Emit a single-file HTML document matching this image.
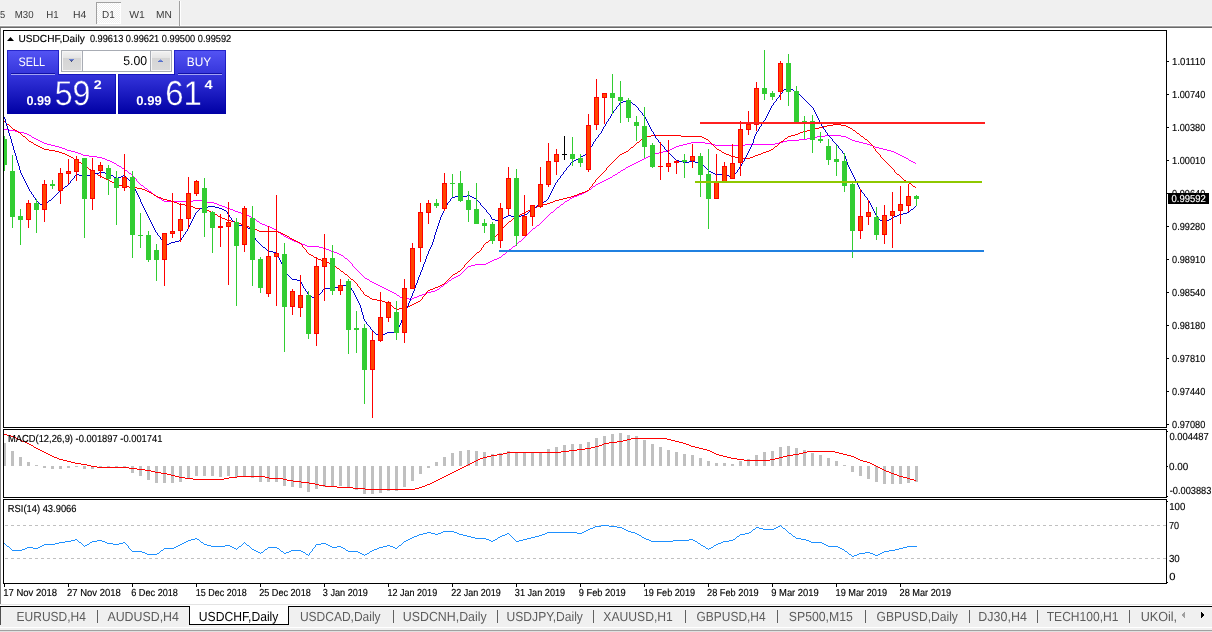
<!DOCTYPE html><html><head><meta charset="utf-8"><title>USDCHF,Daily</title>
<style>html,body{margin:0;padding:0;background:#fff;}body{width:1212px;height:632px;overflow:hidden;position:relative;font-family:"Liberation Sans",sans-serif;}svg{position:absolute;left:0;top:0;display:block}text{font-family:"Liberation Sans",sans-serif;text-rendering:geometricPrecision;}</style></head><body>
<svg width="1212" height="632" viewBox="0 0 1212 632">
<g shape-rendering="crispEdges">
<rect x="0" y="0" width="1212" height="632" fill="#ffffff" />
<rect x="0" y="0" width="1212" height="26" fill="#f0f0f0" />
<rect x="0" y="25" width="1212" height="1" fill="#fbfbfb" />
<rect x="0" y="26" width="1212" height="1" fill="#a0a0a0" />
<rect x="0" y="27" width="1212" height="1" fill="#696969" />
<defs><pattern id="hatch" width="2" height="2" patternUnits="userSpaceOnUse"><rect width="2" height="2" fill="#f0f0f0"/><rect width="1" height="1" fill="#fff"/><rect x="1" y="1" width="1" height="1" fill="#fff"/></pattern></defs>
<rect x="96" y="2" width="25" height="22" fill="url(#hatch)" />
<rect x="96" y="2" width="25" height="1" fill="#a0a0a0" />
<rect x="96" y="2" width="1" height="22" fill="#a0a0a0" />
<rect x="120" y="3" width="1" height="21" fill="#ffffff" />
<rect x="97" y="23" width="24" height="1" fill="#ffffff" />
<rect x="179" y="1" width="1" height="25" fill="#a0a0a0" />
<rect x="180" y="1" width="1" height="25" fill="#ffffff" />
<rect x="0" y="28" width="1" height="576" fill="#808080" />
<rect x="3" y="30" width="1164" height="1" fill="#000" />
<rect x="3" y="427" width="1164" height="1" fill="#000" />
<rect x="3" y="30" width="1" height="398" fill="#000" />
<rect x="1166" y="30" width="1" height="398" fill="#000" />
<rect x="3" y="429" width="1164" height="1" fill="#000" />
<rect x="3" y="497" width="1164" height="1" fill="#000" />
<rect x="3" y="429" width="1" height="69" fill="#000" />
<rect x="1166" y="429" width="1" height="69" fill="#000" />
<rect x="3" y="499" width="1164" height="1" fill="#000" />
<rect x="3" y="583" width="1164" height="1" fill="#000" />
<rect x="3" y="499" width="1" height="85" fill="#000" />
<rect x="1166" y="499" width="1" height="85" fill="#000" />
<rect x="0" y="604" width="1212" height="1" fill="#e3e3e3" />
<rect x="0" y="606" width="1212" height="1" fill="#000" />
<rect x="0" y="607" width="1212" height="20" fill="#f0f0f0" />
<rect x="0" y="627" width="1212" height="1" fill="#ffffff" />
<rect x="0" y="628" width="1212" height="2" fill="#f0f0f0" />
<rect x="0" y="630" width="1212" height="1" fill="#a0a0a0" />
<rect x="0" y="631" width="1212" height="1" fill="#e0e0e0" />
<rect x="0" y="607" width="1" height="18" fill="#505050" />
<rect x="189" y="606" width="100" height="19" fill="#ffffff" />
<rect x="189" y="606" width="1" height="19" fill="#000" />
<rect x="288" y="606" width="1" height="19" fill="#000" />
<rect x="189" y="624" width="100" height="1" fill="#000" />
<rect x="97" y="610" width="1" height="13" fill="#606060" />
<rect x="393" y="610" width="1" height="13" fill="#606060" />
<rect x="497" y="610" width="1" height="13" fill="#606060" />
<rect x="593" y="610" width="1" height="13" fill="#606060" />
<rect x="685" y="610" width="1" height="13" fill="#606060" />
<rect x="777" y="610" width="1" height="13" fill="#606060" />
<rect x="865" y="610" width="1" height="13" fill="#606060" />
<rect x="969" y="610" width="1" height="13" fill="#606060" />
<rect x="1037" y="610" width="1" height="13" fill="#606060" />
<rect x="1129" y="610" width="1" height="13" fill="#606060" />
<polygon points="1185,612 1185,618 1181.8,615" fill="#a0a0a0"/>
<polygon points="1201,611.5 1201,618.5 1204.5,615" fill="#000"/>
<rect x="1167" y="61" width="2" height="1" fill="#000" />
<rect x="1167" y="94" width="2" height="1" fill="#000" />
<rect x="1167" y="127" width="2" height="1" fill="#000" />
<rect x="1167" y="160" width="2" height="1" fill="#000" />
<rect x="1167" y="193" width="2" height="1" fill="#000" />
<rect x="1167" y="226" width="2" height="1" fill="#000" />
<rect x="1167" y="259" width="2" height="1" fill="#000" />
<rect x="1167" y="292" width="2" height="1" fill="#000" />
<rect x="1167" y="325" width="2" height="1" fill="#000" />
<rect x="1167" y="358" width="2" height="1" fill="#000" />
<rect x="1167" y="391" width="2" height="1" fill="#000" />
<rect x="1167" y="424" width="2" height="1" fill="#000" />
<rect x="1167" y="431" width="1" height="1" fill="#000" />
<rect x="1167" y="466" width="1" height="1" fill="#000" />
<rect x="1167" y="496" width="1" height="1" fill="#000" />
<rect x="1167" y="501" width="1" height="1" fill="#000" />
<rect x="1167" y="582" width="1" height="1" fill="#000" />
<rect x="4" y="584" width="1" height="3" fill="#000" />
<rect x="68" y="584" width="1" height="3" fill="#000" />
<rect x="132" y="584" width="1" height="3" fill="#000" />
<rect x="196" y="584" width="1" height="3" fill="#000" />
<rect x="260" y="584" width="1" height="3" fill="#000" />
<rect x="324" y="584" width="1" height="3" fill="#000" />
<rect x="388" y="584" width="1" height="3" fill="#000" />
<rect x="452" y="584" width="1" height="3" fill="#000" />
<rect x="516" y="584" width="1" height="3" fill="#000" />
<rect x="580" y="584" width="1" height="3" fill="#000" />
<rect x="644" y="584" width="1" height="3" fill="#000" />
<rect x="708" y="584" width="1" height="3" fill="#000" />
<rect x="772" y="584" width="1" height="3" fill="#000" />
<rect x="836" y="584" width="1" height="3" fill="#000" />
<rect x="900" y="584" width="1" height="3" fill="#000" />
<line x1="5" y1="525.5" x2="1166" y2="525.5" stroke="#c0c0c0" stroke-width="1" stroke-dasharray="3 3"/>
<line x1="5" y1="558.5" x2="1166" y2="558.5" stroke="#c0c0c0" stroke-width="1" stroke-dasharray="3 3"/>
<rect x="4" y="443" width="2" height="23" fill="#c0c0c0" />
<rect x="11" y="451" width="3" height="15" fill="#c0c0c0" />
<rect x="19" y="457" width="3" height="9" fill="#c0c0c0" />
<rect x="27" y="462" width="3" height="4" fill="#c0c0c0" />
<rect x="35" y="465" width="3" height="1" fill="#c0c0c0" />
<rect x="43" y="466" width="3" height="2" fill="#c0c0c0" />
<rect x="51" y="466" width="3" height="3" fill="#c0c0c0" />
<rect x="59" y="466" width="3" height="3" fill="#c0c0c0" />
<rect x="67" y="466" width="3" height="2" fill="#c0c0c0" />
<rect x="75" y="466" width="3" height="1" fill="#c0c0c0" />
<rect x="83" y="466" width="3" height="3" fill="#c0c0c0" />
<rect x="91" y="466" width="3" height="3" fill="#c0c0c0" />
<rect x="99" y="466" width="3" height="2" fill="#c0c0c0" />
<rect x="107" y="466" width="3" height="2" fill="#c0c0c0" />
<rect x="115" y="466" width="3" height="2" fill="#c0c0c0" />
<rect x="123" y="466" width="3" height="2" fill="#c0c0c0" />
<rect x="131" y="466" width="3" height="7" fill="#c0c0c0" />
<rect x="139" y="466" width="3" height="10" fill="#c0c0c0" />
<rect x="147" y="466" width="3" height="14" fill="#c0c0c0" />
<rect x="155" y="466" width="3" height="17" fill="#c0c0c0" />
<rect x="163" y="466" width="3" height="17" fill="#c0c0c0" />
<rect x="171" y="466" width="3" height="17" fill="#c0c0c0" />
<rect x="179" y="466" width="3" height="16" fill="#c0c0c0" />
<rect x="187" y="466" width="3" height="13" fill="#c0c0c0" />
<rect x="195" y="466" width="3" height="10" fill="#c0c0c0" />
<rect x="203" y="466" width="3" height="10" fill="#c0c0c0" />
<rect x="211" y="466" width="3" height="10" fill="#c0c0c0" />
<rect x="219" y="466" width="3" height="11" fill="#c0c0c0" />
<rect x="227" y="466" width="3" height="10" fill="#c0c0c0" />
<rect x="235" y="466" width="3" height="11" fill="#c0c0c0" />
<rect x="243" y="466" width="3" height="10" fill="#c0c0c0" />
<rect x="251" y="466" width="3" height="12" fill="#c0c0c0" />
<rect x="259" y="466" width="3" height="16" fill="#c0c0c0" />
<rect x="267" y="466" width="3" height="16" fill="#c0c0c0" />
<rect x="275" y="466" width="3" height="16" fill="#c0c0c0" />
<rect x="283" y="466" width="3" height="20" fill="#c0c0c0" />
<rect x="291" y="466" width="3" height="21" fill="#c0c0c0" />
<rect x="299" y="466" width="3" height="22" fill="#c0c0c0" />
<rect x="307" y="466" width="3" height="26" fill="#c0c0c0" />
<rect x="315" y="466" width="3" height="23" fill="#c0c0c0" />
<rect x="323" y="466" width="3" height="21" fill="#c0c0c0" />
<rect x="331" y="466" width="3" height="20" fill="#c0c0c0" />
<rect x="339" y="466" width="3" height="20" fill="#c0c0c0" />
<rect x="347" y="466" width="3" height="22" fill="#c0c0c0" />
<rect x="355" y="466" width="3" height="24" fill="#c0c0c0" />
<rect x="363" y="466" width="3" height="28" fill="#c0c0c0" />
<rect x="371" y="466" width="3" height="28" fill="#c0c0c0" />
<rect x="379" y="466" width="3" height="27" fill="#c0c0c0" />
<rect x="387" y="466" width="3" height="25" fill="#c0c0c0" />
<rect x="395" y="466" width="3" height="25" fill="#c0c0c0" />
<rect x="403" y="466" width="3" height="21" fill="#c0c0c0" />
<rect x="411" y="466" width="3" height="15" fill="#c0c0c0" />
<rect x="419" y="466" width="3" height="8" fill="#c0c0c0" />
<rect x="427" y="466" width="3" height="2" fill="#c0c0c0" />
<rect x="435" y="462" width="3" height="4" fill="#c0c0c0" />
<rect x="443" y="457" width="3" height="9" fill="#c0c0c0" />
<rect x="451" y="453" width="3" height="13" fill="#c0c0c0" />
<rect x="459" y="451" width="3" height="15" fill="#c0c0c0" />
<rect x="467" y="450" width="3" height="16" fill="#c0c0c0" />
<rect x="475" y="451" width="3" height="15" fill="#c0c0c0" />
<rect x="483" y="452" width="3" height="14" fill="#c0c0c0" />
<rect x="491" y="454" width="3" height="12" fill="#c0c0c0" />
<rect x="499" y="453" width="3" height="13" fill="#c0c0c0" />
<rect x="507" y="451" width="3" height="15" fill="#c0c0c0" />
<rect x="515" y="452" width="3" height="14" fill="#c0c0c0" />
<rect x="523" y="452" width="3" height="14" fill="#c0c0c0" />
<rect x="531" y="452" width="3" height="14" fill="#c0c0c0" />
<rect x="539" y="452" width="3" height="14" fill="#c0c0c0" />
<rect x="547" y="449" width="3" height="17" fill="#c0c0c0" />
<rect x="555" y="447" width="3" height="19" fill="#c0c0c0" />
<rect x="563" y="445" width="3" height="21" fill="#c0c0c0" />
<rect x="571" y="444" width="3" height="22" fill="#c0c0c0" />
<rect x="579" y="444" width="3" height="22" fill="#c0c0c0" />
<rect x="587" y="442" width="3" height="24" fill="#c0c0c0" />
<rect x="595" y="438" width="3" height="28" fill="#c0c0c0" />
<rect x="603" y="436" width="3" height="30" fill="#c0c0c0" />
<rect x="611" y="434" width="3" height="32" fill="#c0c0c0" />
<rect x="619" y="433" width="3" height="33" fill="#c0c0c0" />
<rect x="627" y="435" width="3" height="31" fill="#c0c0c0" />
<rect x="635" y="436" width="3" height="30" fill="#c0c0c0" />
<rect x="643" y="440" width="3" height="26" fill="#c0c0c0" />
<rect x="651" y="444" width="3" height="22" fill="#c0c0c0" />
<rect x="659" y="447" width="3" height="19" fill="#c0c0c0" />
<rect x="667" y="450" width="3" height="16" fill="#c0c0c0" />
<rect x="675" y="452" width="3" height="14" fill="#c0c0c0" />
<rect x="683" y="454" width="3" height="12" fill="#c0c0c0" />
<rect x="691" y="455" width="3" height="11" fill="#c0c0c0" />
<rect x="699" y="458" width="3" height="8" fill="#c0c0c0" />
<rect x="707" y="461" width="3" height="5" fill="#c0c0c0" />
<rect x="715" y="463" width="3" height="3" fill="#c0c0c0" />
<rect x="723" y="463" width="3" height="3" fill="#c0c0c0" />
<rect x="731" y="464" width="3" height="2" fill="#c0c0c0" />
<rect x="739" y="461" width="3" height="5" fill="#c0c0c0" />
<rect x="747" y="459" width="3" height="7" fill="#c0c0c0" />
<rect x="755" y="455" width="3" height="11" fill="#c0c0c0" />
<rect x="763" y="452" width="3" height="14" fill="#c0c0c0" />
<rect x="771" y="451" width="3" height="15" fill="#c0c0c0" />
<rect x="779" y="447" width="3" height="19" fill="#c0c0c0" />
<rect x="787" y="446" width="3" height="20" fill="#c0c0c0" />
<rect x="795" y="448" width="3" height="18" fill="#c0c0c0" />
<rect x="803" y="450" width="3" height="16" fill="#c0c0c0" />
<rect x="811" y="453" width="3" height="13" fill="#c0c0c0" />
<rect x="819" y="455" width="3" height="11" fill="#c0c0c0" />
<rect x="827" y="458" width="3" height="8" fill="#c0c0c0" />
<rect x="835" y="461" width="3" height="5" fill="#c0c0c0" />
<rect x="843" y="465" width="3" height="1" fill="#c0c0c0" />
<rect x="851" y="466" width="3" height="6" fill="#c0c0c0" />
<rect x="859" y="466" width="3" height="10" fill="#c0c0c0" />
<rect x="867" y="466" width="3" height="13" fill="#c0c0c0" />
<rect x="875" y="466" width="3" height="16" fill="#c0c0c0" />
<rect x="883" y="466" width="3" height="18" fill="#c0c0c0" />
<rect x="891" y="466" width="3" height="18" fill="#c0c0c0" />
<rect x="899" y="466" width="3" height="18" fill="#c0c0c0" />
<rect x="907" y="466" width="3" height="17" fill="#c0c0c0" />
<rect x="915" y="466" width="3" height="16" fill="#c0c0c0" />
</g>
<g shape-rendering="crispEdges">
<path d="M44 452.5h2M507 452.5h54M712 452.5h2M803 452.5h4M835 452.5h4M42 451.5h2M561 451.5h8M710 451.5h2M807 451.5h28M91 466.5h6M464 466.5h2M876 466.5h2M325 486.5h12M422 486.5h3M48 454.5h2M497 454.5h6M716 454.5h3M793 454.5h6M843 454.5h4M46 453.5h2M503 453.5h4M714 453.5h2M799 453.5h4M839 453.5h4M301 482.5h8M432 482.5h2M40 450.5h2M569 450.5h8M707 450.5h3M20 440.5h2M623 440.5h4M671 440.5h4M63 460.5h4M476 460.5h2M744 460.5h26M860 460.5h3M59 459.5h4M478 459.5h2M737 459.5h7M770 459.5h5M858 459.5h2M185 478.5h8M224 478.5h5M269 478.5h14M440 478.5h2M907 478.5h3M309 483.5h6M430 483.5h2M36 448.5h2M585 448.5h6M699 448.5h4M175 476.5h4M237 476.5h28M444 476.5h2M899 476.5h4M151 471.5h4M454 471.5h2M886 471.5h3M97 467.5h32M462 467.5h2M878 467.5h2M193 479.5h31M283 479.5h4M438 479.5h2M910 479.5h4M75 463.5h6M470 463.5h2M870 463.5h2M50 455.5h2M491 455.5h6M719 455.5h4M787 455.5h6M847 455.5h4M38 449.5h2M577 449.5h8M703 449.5h4M137 469.5h8M458 469.5h2M882 469.5h2M71 462.5h4M472 462.5h2M867 462.5h3M129 468.5h8M460 468.5h2M880 468.5h2M81 464.5h6M468 464.5h2M872 464.5h2M315 484.5h4M427 484.5h3M167 474.5h4M448 474.5h2M894 474.5h3M179 477.5h6M229 477.5h8M265 477.5h4M442 477.5h2M903 477.5h4M29 444.5h2M602 444.5h2M686 444.5h3M145 470.5h6M456 470.5h2M884 470.5h2M16 438.5h2M631 438.5h36M52 456.5h2M487 456.5h4M723 456.5h4M783 456.5h4M851 456.5h3M171 475.5h4M446 475.5h2M897 475.5h2M337 487.5h16M419 487.5h3M4 434.5h3M87 465.5h4M466 465.5h2M874 465.5h2M155 472.5h6M452 472.5h2M889 472.5h2M353 488.5h12M415 488.5h4M293 481.5h8M434 481.5h2M25 442.5h2M609 442.5h8M679 442.5h4M22 441.5h3M617 441.5h6M675 441.5h4M365 489.5h50M7 435.5h4M319 485.5h6M425 485.5h2M27 443.5h2M604 443.5h5M683 443.5h3M287 480.5h6M436 480.5h2M914 480.5h2M57 458.5h2M480 458.5h3M731 458.5h6M775 458.5h4M856 458.5h2M31 445.5h2M599 445.5h3M689 445.5h2M67 461.5h4M474 461.5h2M863 461.5h4M11 436.5h3M54 457.5h3M483 457.5h4M727 457.5h4M779 457.5h4M854 457.5h2M34 447.5h2M591 447.5h4M695 447.5h4M33 446.5h1M595 446.5h4M691 446.5h4M18 439.5h2M627 439.5h4M667 439.5h4M161 473.5h6M450 473.5h2M891 473.5h3M14 437.5h2" fill="none" stroke="#ff0000" stroke-width="1" shape-rendering="crispEdges"/>
<path d="M315.5 545v2M309.5 553v2M312.5 549v2M128.5 546v2M65 541.5h6M78 541.5h1M92 541.5h5M102 541.5h3M186 541.5h2M200 541.5h1M404 541.5h2M491 541.5h2M516 541.5h3M651 541.5h22M695 541.5h2M723 541.5h6M809 541.5h2M419 534.5h4M435 534.5h3M459 534.5h4M505 534.5h2M509 534.5h1M542 534.5h3M637 534.5h2M740 534.5h5M791 534.5h1M417 535.5h2M463 535.5h4M502 535.5h3M510 535.5h1M539 535.5h3M639 535.5h2M739 535.5h1M792 535.5h1M412 537.5h2M471 537.5h4M498 537.5h2M512 537.5h1M531 537.5h4M642 537.5h2M736 537.5h1M795 537.5h1M12 550.5h10M131 550.5h1M161 550.5h2M254 550.5h2M264 550.5h1M280 550.5h1M291 550.5h10M346 550.5h2M372 550.5h2M844 550.5h1M889 550.5h6M142 552.5h3M159 552.5h1M258 552.5h2M261 552.5h2M283 552.5h1M286 552.5h3M303 552.5h2M310 552.5h1M358 552.5h2M369 552.5h1M847 552.5h1M865 552.5h5M882 552.5h2M4 543.5h1M55 543.5h4M81 543.5h1M89 543.5h1M107 543.5h6M119 543.5h4M125 543.5h1M182 543.5h2M203 543.5h1M243 543.5h1M245 543.5h1M321 543.5h5M402 543.5h1M698 543.5h2M718 543.5h3M822 543.5h2M145 553.5h2M157 553.5h2M260 553.5h1M284 553.5h2M305 553.5h1M360 553.5h2M367 553.5h2M848 553.5h1M859 553.5h6M870 553.5h3M880 553.5h2M7 546.5h2M40 546.5h2M84 546.5h1M176 546.5h2M211 546.5h14M230 546.5h2M239 546.5h2M249 546.5h1M330 546.5h2M337 546.5h4M383 546.5h4M390 546.5h3M398 546.5h1M703 546.5h2M713 546.5h1M828 546.5h10M907 546.5h10M414 536.5h3M467 536.5h4M500 536.5h2M511 536.5h1M535 536.5h4M641 536.5h1M737 536.5h2M793 536.5h2M75 539.5h2M191 539.5h4M197 539.5h2M408 539.5h2M486 539.5h3M495 539.5h2M514 539.5h1M523 539.5h4M646 539.5h3M689 539.5h4M733 539.5h2M801 539.5h5M71 540.5h4M77 540.5h1M97 540.5h5M188 540.5h3M199 540.5h1M406 540.5h2M489 540.5h2M493 540.5h2M515 540.5h1M519 540.5h4M649 540.5h2M673 540.5h16M693 540.5h2M729 540.5h4M806 540.5h3M132 551.5h10M160 551.5h1M256 551.5h2M263 551.5h1M281 551.5h2M289 551.5h2M301 551.5h2M311 551.5h1M348 551.5h10M370 551.5h2M845 551.5h2M884 551.5h5M5 544.5h1M44 544.5h11M82 544.5h1M87 544.5h2M113 544.5h6M126 544.5h1M180 544.5h2M204 544.5h3M242 544.5h1M246 544.5h1M316 544.5h5M326 544.5h2M401 544.5h1M700 544.5h1M716 544.5h2M824 544.5h2M9 547.5h1M27 547.5h6M38 547.5h2M174 547.5h2M232 547.5h2M238 547.5h1M250 547.5h1M268 547.5h9M314 547.5h1M332 547.5h5M341 547.5h2M379 547.5h4M393 547.5h2M397 547.5h1M705 547.5h1M711 547.5h2M838 547.5h2M903 547.5h4M586 530.5h2M626 530.5h2M752 530.5h1M786 530.5h1M195 538.5h2M410 538.5h2M475 538.5h11M497 538.5h1M513 538.5h1M527 538.5h4M644 538.5h2M735 538.5h1M796 538.5h5M308 555.5h1M364 555.5h1M851 555.5h1M854 555.5h3M875 555.5h3M601 525.5h8M780 525.5h1M427 532.5h4M441 532.5h2M454 532.5h3M547 532.5h30M582 532.5h2M631 532.5h4M749 532.5h2M788 532.5h1M59 542.5h6M79 542.5h2M90 542.5h2M105 542.5h2M123 542.5h2M184 542.5h2M201 542.5h2M244 542.5h1M403 542.5h1M697 542.5h1M721 542.5h2M811 542.5h11M443 531.5h11M584 531.5h2M628 531.5h3M751 531.5h1M787 531.5h1M10 548.5h1M25 548.5h2M33 548.5h5M129 548.5h1M164 548.5h10M234 548.5h2M237 548.5h1M251 548.5h1M267 548.5h1M277 548.5h2M313 548.5h1M343 548.5h2M377 548.5h2M395 548.5h2M706 548.5h2M709 548.5h2M840 548.5h2M899 548.5h4M593 527.5h2M617 527.5h5M756 527.5h3M776 527.5h2M782 527.5h1M147 554.5h10M306 554.5h2M362 554.5h2M365 554.5h2M849 554.5h2M857 554.5h2M873 554.5h2M878 554.5h2M595 526.5h6M609 526.5h8M778 526.5h2M781 526.5h1M11 549.5h1M22 549.5h3M130 549.5h1M163 549.5h1M236 549.5h1M252 549.5h2M265 549.5h2M279 549.5h1M345 549.5h1M374 549.5h3M708 549.5h1M842 549.5h2M895 549.5h4M6 545.5h1M42 545.5h2M83 545.5h1M85 545.5h2M127 545.5h1M178 545.5h2M207 545.5h4M225 545.5h5M241 545.5h1M247 545.5h2M328 545.5h2M387 545.5h3M399 545.5h2M701 545.5h2M714 545.5h2M826 545.5h2M423 533.5h4M431 533.5h4M438 533.5h3M457 533.5h2M507 533.5h2M545 533.5h2M577 533.5h5M635 533.5h2M745 533.5h4M789 533.5h2M588 529.5h2M624 529.5h2M753 529.5h2M763 529.5h11M785 529.5h1M590 528.5h3M622 528.5h2M755 528.5h1M759 528.5h4M774 528.5h2M783 528.5h2M852 556.5h2" fill="none" stroke="#1e90ff" stroke-width="1" shape-rendering="crispEdges"/>
</g>
<path d="M352.5 264v2M136.5 179v2M274 229.5h2M532 229.5h1M390 291.5h2M431 291.5h4M34 138.5h2M807 138.5h4M848 138.5h2M19 132.5h5M127 171.5h1M620 171.5h1M354 267.5h1M467 267.5h1M47 144.5h4M683 144.5h4M711 144.5h4M745 144.5h30M867 144.5h3M164 201.5h29M202 201.5h2M565 201.5h2M606 179.5h2M128 172.5h1M618 172.5h2M290 239.5h2M522 239.5h1M31 136.5h1M817 136.5h8M841 136.5h5M42 142.5h2M691 142.5h14M779 142.5h4M859 142.5h4M36 139.5h2M799 139.5h8M850 139.5h2M24 133.5h3M51 145.5h4M679 145.5h4M715 145.5h30M870 145.5h3M222 206.5h3M559 206.5h1M4 129.5h5M116 164.5h1M632 164.5h2M386 289.5h2M437 289.5h2M29 135.5h2M825 135.5h16M337 253.5h2M505 253.5h1M159 198.5h2M570 198.5h2M27 134.5h2M345 258.5h2M497 258.5h2M307 246.5h12M513 246.5h2M297 242.5h2M518 242.5h1M471 265.5h4M214 203.5h3M563 203.5h1M294 241.5h3M519 241.5h2M349 261.5h1M490 261.5h2M119 166.5h2M628 166.5h2M217 204.5h2M561 204.5h2M162 200.5h2M193 200.5h9M567 200.5h2M156 196.5h1M574 196.5h3M281 234.5h2M527 234.5h1M38 140.5h2M787 140.5h12M852 140.5h3M59 147.5h3M674 147.5h2M875 147.5h4M139 183.5h1M598 183.5h2M137 181.5h1M602 181.5h2M149 191.5h2M586 191.5h2M267 226.5h3M536 226.5h1M81 154.5h2M652 154.5h3M898 154.5h2M152 193.5h1M582 193.5h2M32 137.5h2M811 137.5h6M846 137.5h2M367 279.5h2M451 279.5h1M475 264.5h11M40 141.5h2M783 141.5h4M855 141.5h4M277 231.5h2M530 231.5h1M9 130.5h6M89 156.5h8M648 156.5h2M902 156.5h2M396 294.5h1M422 294.5h3M83 155.5h6M650 155.5h2M900 155.5h2M260 223.5h2M540 223.5h1M279 232.5h1M529 232.5h1M262 224.5h3M539 224.5h1M55 146.5h4M676 146.5h3M873 146.5h2M71 151.5h4M663 151.5h4M891 151.5h3M392 292.5h2M427 292.5h4M348 260.5h1M492 260.5h2M323 248.5h3M511 248.5h1M302 244.5h3M516 244.5h1M97 157.5h5M646 157.5h2M904 157.5h2M78 153.5h3M655 153.5h4M896 153.5h2M359 272.5h1M462 272.5h1M44 143.5h3M687 143.5h4M705 143.5h6M775 143.5h4M863 143.5h4M225 207.5h2M557 207.5h2M122 168.5h2M625 168.5h1M364 277.5h1M454 277.5h2M145 188.5h2M591 188.5h1M204 202.5h10M564 202.5h1M406 298.5h3M412 298.5h2M326 249.5h3M509 249.5h2M124 169.5h1M623 169.5h2M135 178.5h1M608 178.5h2M65 149.5h2M670 149.5h2M883 149.5h4M388 290.5h2M435 290.5h2M219 205.5h3M560 205.5h1M243 214.5h3M549 214.5h1M155 195.5h1M577 195.5h2M102 158.5h3M644 158.5h2M906 158.5h2M235 211.5h3M553 211.5h1M75 152.5h3M659 152.5h4M894 152.5h2M319 247.5h4M512 247.5h1M360 273.5h1M461 273.5h1M238 212.5h3M551 212.5h2M270 227.5h2M535 227.5h1M129 173.5h2M617 173.5h1M350 262.5h1M488 262.5h2M157 197.5h2M572 197.5h2M397 295.5h2M419 295.5h3M230 209.5h3M555 209.5h1M125 170.5h2M621 170.5h2M272 228.5h2M533 228.5h2M384 288.5h2M439 288.5h1M286 237.5h2M524 237.5h1M353 266.5h1M468 266.5h3M132 175.5h1M613 175.5h2M134 177.5h1M610 177.5h2M339 254.5h2M503 254.5h2M265 225.5h2M537 225.5h2M378 285.5h2M443 285.5h1M114 163.5h2M634 163.5h2M915 163.5h1M257 221.5h2M542 221.5h1M355 268.5h1M466 268.5h1M400 297.5h6M414 297.5h3M341 255.5h2M502 255.5h1M331 251.5h3M507 251.5h1M233 210.5h2M554 210.5h1M259 222.5h1M541 222.5h1M107 160.5h3M640 160.5h2M909 160.5h2M344 257.5h1M499 257.5h2M249 216.5h2M547 216.5h1M334 252.5h3M506 252.5h1M110 161.5h2M638 161.5h2M911 161.5h2M246 215.5h3M548 215.5h1M112 162.5h2M636 162.5h2M913 162.5h2M604 180.5h2M329 250.5h2M508 250.5h1M380 286.5h2M441 286.5h2M382 287.5h2M440 287.5h1M374 283.5h2M445 283.5h2M138 182.5h1M600 182.5h2M15 131.5h4M121 167.5h1M626 167.5h2M376 284.5h2M444 284.5h1M369 280.5h1M449 280.5h2M67 150.5h4M667 150.5h3M887 150.5h4M305 245.5h2M515 245.5h1M347 259.5h1M494 259.5h3M370 281.5h2M448 281.5h1M363 276.5h1M456 276.5h2M372 282.5h2M447 282.5h1M253 218.5h2M545 218.5h1M151 192.5h1M584 192.5h2M351 263.5h1M486 263.5h2M276 230.5h1M531 230.5h1M299 243.5h3M517 243.5h1M394 293.5h2M425 293.5h2M140 184.5h1M596 184.5h2M147 189.5h1M589 189.5h2M357 270.5h1M464 270.5h1M365 278.5h2M452 278.5h2M131 174.5h1M615 174.5h2M62 148.5h3M672 148.5h2M879 148.5h4M409 299.5h3M105 159.5h2M642 159.5h2M908 159.5h1M283 235.5h1M526 235.5h1M148 190.5h1M588 190.5h1M153 194.5h2M579 194.5h3M227 208.5h3M556 208.5h1M362 275.5h1M458 275.5h2M399 296.5h1M417 296.5h2M161 199.5h1M569 199.5h1M251 217.5h2M546 217.5h1M143 186.5h1M593 186.5h2M141 185.5h2M595 185.5h1M255 219.5h1M544 219.5h1M361 274.5h1M460 274.5h1M256 220.5h1M543 220.5h1M292 240.5h2M521 240.5h1M117 165.5h2M630 165.5h2M241 213.5h2M550 213.5h1M280 233.5h1M528 233.5h1M358 271.5h1M463 271.5h1M288 238.5h2M523 238.5h1M284 236.5h2M525 236.5h1M356 269.5h1M465 269.5h1M343 256.5h1M501 256.5h1M133 176.5h1M612 176.5h1M144 187.5h1M592 187.5h1" fill="none" stroke="#ff00ff" stroke-width="1" shape-rendering="crispEdges"/>
<path d="M360.5 288v2M502.5 228v2M606.5 168v2M880.5 155v2M363.5 292v2M481.5 248v2M894.5 170v2M306.5 250v2M426.5 292v2M589.5 188v2M592.5 184v2M464.5 265v2M483.5 245v2M595.5 180v2M873.5 146v2M875.5 149v2M357.5 284v2M422.5 297v2M302.5 245v2M69 156.5h2M618 156.5h1M731 156.5h4M753 156.5h2M341 271.5h2M458 271.5h2M301 244.5h1M484 244.5h1M9 125.5h1M827 125.5h6M841 125.5h5M15 130.5h2M807 130.5h4M853 130.5h2M185 205.5h5M539 205.5h4M356 283.5h1M444 283.5h1M62 153.5h3M622 153.5h2M724 153.5h2M761 153.5h2M878 153.5h1M158 197.5h3M567 197.5h4M25 137.5h1M644 137.5h3M702 137.5h2M787 137.5h1M863 137.5h1M44 149.5h5M629 149.5h1M717 149.5h2M771 149.5h2M179 204.5h6M543 204.5h4M85 166.5h2M608 166.5h1M890 166.5h1M292 239.5h2M490 239.5h2M385 302.5h2M416 302.5h2M167 200.5h4M555 200.5h4M65 154.5h2M620 154.5h2M726 154.5h3M758 154.5h3M879 154.5h1M22 135.5h1M651 135.5h30M791 135.5h4M860 135.5h1M440 285.5h2M93 172.5h2M603 172.5h1M895 172.5h1M231 221.5h4M509 221.5h2M59 152.5h3M624 152.5h2M722 152.5h2M763 152.5h3M877 152.5h1M372 299.5h5M421 299.5h1M23 136.5h2M647 136.5h4M681 136.5h21M788 136.5h3M861 136.5h2M206 210.5h3M528 210.5h2M370 298.5h2M114 183.5h2M593 183.5h1M909 183.5h2M71 157.5h2M617 157.5h1M735 157.5h4M750 157.5h3M881 157.5h1M12 128.5h1M815 128.5h4M850 128.5h2M55 151.5h4M626 151.5h2M721 151.5h1M766 151.5h3M876 151.5h1M394 308.5h2M399 308.5h7M154 195.5h2M574 195.5h3M20 133.5h1M798 133.5h2M857 133.5h2M195 208.5h8M532 208.5h2M174 202.5h3M550 202.5h3M289 237.5h1M493 237.5h1M326 262.5h3M467 262.5h1M281 233.5h2M498 233.5h1M116 184.5h3M911 184.5h1M108 180.5h2M904 180.5h2M211 212.5h2M524 212.5h2M290 238.5h2M492 238.5h1M7 124.5h2M833 124.5h8M367 296.5h2M423 296.5h1M10 126.5h1M823 126.5h4M846 126.5h2M243 225.5h3M505 225.5h1M17 131.5h1M803 131.5h4M855 131.5h1M100 176.5h2M599 176.5h1M900 176.5h1M285 235.5h2M496 235.5h1M161 198.5h2M563 198.5h4M259 231.5h19M500 231.5h1M112 182.5h2M594 182.5h1M908 182.5h1M104 178.5h2M597 178.5h1M902 178.5h1M26 138.5h1M643 138.5h1M704 138.5h2M785 138.5h2M864 138.5h1M278 232.5h3M499 232.5h1M351 279.5h2M448 279.5h1M365 295.5h2M424 295.5h1M389 304.5h1M412 304.5h2M27 139.5h1M641 139.5h2M706 139.5h2M784 139.5h1M865 139.5h2M359 287.5h1M435 287.5h3M123 186.5h6M591 186.5h1M913 186.5h2M238 223.5h3M507 223.5h1M13 129.5h2M811 129.5h4M852 129.5h1M73 158.5h1M616 158.5h1M739 158.5h11M882 158.5h1M77 161.5h2M613 161.5h1M885 161.5h1M97 174.5h1M601 174.5h1M897 174.5h2M287 236.5h2M494 236.5h2M49 150.5h6M628 150.5h1M719 150.5h2M769 150.5h2M377 300.5h5M420 300.5h1M129 187.5h8M590 187.5h1M915 187.5h1M382 301.5h3M418 301.5h2M79 162.5h2M612 162.5h1M886 162.5h1M98 175.5h2M600 175.5h1M899 175.5h1M337 268.5h2M462 268.5h1M311 255.5h2M474 255.5h1M31 142.5h2M637 142.5h2M710 142.5h1M780 142.5h1M869 142.5h1M296 241.5h2M488 241.5h1M40 147.5h2M631 147.5h2M715 147.5h1M774 147.5h1M249 227.5h2M503 227.5h1M215 214.5h2M520 214.5h2M307 252.5h1M477 252.5h2M74 159.5h2M615 159.5h1M883 159.5h1M42 148.5h2M630 148.5h1M716 148.5h1M773 148.5h1M874 148.5h1M251 228.5h3M18 132.5h2M800 132.5h3M856 132.5h1M303 247.5h1M482 247.5h1M396 309.5h3M362 291.5h1M427 291.5h1M254 229.5h3M304 248.5h1M193 207.5h2M534 207.5h3M314 257.5h2M472 257.5h1M283 234.5h2M497 234.5h1M348 276.5h1M451 276.5h1M149 192.5h2M582 192.5h3M21 134.5h1M795 134.5h3M859 134.5h1M318 259.5h3M470 259.5h1M246 226.5h3M504 226.5h1M298 242.5h2M486 242.5h2M344 273.5h1M455 273.5h2M156 196.5h2M571 196.5h3M309 254.5h2M475 254.5h1M393 307.5h1M406 307.5h2M430 289.5h3M333 265.5h2M220 217.5h2M515 217.5h1M177 203.5h2M547 203.5h3M29 141.5h2M639 141.5h1M709 141.5h1M781 141.5h2M868 141.5h1M387 303.5h2M414 303.5h2M36 145.5h2M634 145.5h1M713 145.5h1M777 145.5h1M872 145.5h1M102 177.5h2M598 177.5h1M901 177.5h1M89 169.5h2M893 169.5h1M34 144.5h2M635 144.5h1M712 144.5h1M778 144.5h1M871 144.5h1M442 284.5h2M92 171.5h1M604 171.5h1M218 216.5h2M516 216.5h2M329 263.5h2M466 263.5h1M11 127.5h1M819 127.5h4M848 127.5h2M257 230.5h2M501 230.5h1M81 163.5h1M611 163.5h1M887 163.5h1M222 218.5h3M513 218.5h2M321 260.5h2M469 260.5h1M95 173.5h2M602 173.5h1M896 173.5h1M137 188.5h5M67 155.5h2M619 155.5h1M729 155.5h2M755 155.5h3M153 194.5h1M577 194.5h2M323 261.5h3M468 261.5h1M163 199.5h4M559 199.5h4M82 164.5h2M610 164.5h1M888 164.5h1M110 181.5h2M906 181.5h2M390 305.5h2M410 305.5h2M343 272.5h1M457 272.5h1M227 220.5h4M511 220.5h1M354 281.5h1M446 281.5h1M358 286.5h1M438 286.5h2M339 269.5h1M461 269.5h1M28 140.5h1M640 140.5h1M708 140.5h1M783 140.5h1M867 140.5h1M203 209.5h3M530 209.5h2M151 193.5h2M579 193.5h3M142 189.5h3M106 179.5h2M596 179.5h1M903 179.5h1M38 146.5h2M633 146.5h1M714 146.5h1M775 146.5h2M145 190.5h2M587 190.5h2M209 211.5h2M526 211.5h2M88 168.5h1M892 168.5h1M147 191.5h2M585 191.5h2M190 206.5h3M537 206.5h2M313 256.5h1M473 256.5h1M347 275.5h1M452 275.5h1M345 274.5h2M453 274.5h2M235 222.5h3M508 222.5h1M91 170.5h1M605 170.5h1M433 288.5h2M294 240.5h2M489 240.5h1M308 253.5h1M476 253.5h1M369 297.5h1M33 143.5h1M636 143.5h1M711 143.5h1M779 143.5h1M870 143.5h1M480 250.5h1M241 224.5h2M506 224.5h1M364 294.5h1M425 294.5h1M171 201.5h3M553 201.5h2M84 165.5h1M609 165.5h1M889 165.5h1M353 280.5h1M447 280.5h1M305 249.5h1M119 185.5h4M912 185.5h1M76 160.5h1M614 160.5h1M884 160.5h1M392 306.5h1M408 306.5h2M355 282.5h1M445 282.5h1M316 258.5h2M471 258.5h1M5 122.5h1M331 264.5h2M465 264.5h1M335 266.5h1M349 277.5h1M450 277.5h1M4 121.5h1M225 219.5h2M512 219.5h1M217 215.5h1M518 215.5h2M336 267.5h1M463 267.5h1M87 167.5h1M607 167.5h1M891 167.5h1M361 290.5h1M428 290.5h2M213 213.5h2M522 213.5h2M479 251.5h1M340 270.5h1M460 270.5h1M300 243.5h1M485 243.5h1M6 123.5h1M350 278.5h1M449 278.5h1" fill="none" stroke="#ff0000" stroke-width="1" shape-rendering="crispEdges"/>
<path d="M426.5 256v3M756.5 132v2M592.5 144v2M864.5 194v2M28.5 187v2M8.5 129v4M434.5 235v4M649.5 125v2M277.5 254v2M29.5 189v2M650.5 127v2M588.5 151v2M653.5 132v2M442.5 213v2M664.5 147v2M409.5 301v2M396.5 331v2M549.5 195v2M832.5 139v2M846.5 159v3M187.5 229v2M771.5 106v2M853.5 175v2M366.5 322v2M755.5 134v2M424.5 262v2M642.5 113v2M145.5 210v2M370.5 327v2M739.5 167v2M433.5 239v3M874.5 211v2M779.5 95v2M878.5 217v2M362.5 312v3M403.5 315v3M437.5 226v3M611.5 114v2M770.5 108v2M606.5 122v2M423.5 264v3M276.5 252v2M27.5 185v2M193.5 217v2M250.5 229v2M867.5 198v2M411.5 296v2M602.5 129v2M431.5 245v2M283.5 267v2M563.5 172v2M420.5 272v3M598.5 135v2M361.5 308v4M447.5 203v2M554.5 185v2M769.5 110v2M436.5 229v3M20.5 170v3M23.5 177v2M443.5 211v2M192.5 219v2M9.5 133v3M550.5 193v2M410.5 298v3M154.5 228v2M227.5 212v2M12.5 143v3M399.5 325v2M601.5 131v2M155.5 230v2M188.5 227v2M13.5 146v4M15.5 153v3M419.5 275v2M749.5 149v2M357.5 299v2M761.5 124v2M847.5 162v3M139.5 197v2M745.5 157v2M818.5 118v2M869.5 201v2M821.5 124v2M191.5 221v2M439.5 220v3M417.5 280v3M18.5 163v3M406.5 308v2M183.5 235v2M21.5 173v2M744.5 159v2M861.5 190v2M229.5 215v2M303.5 286v2M616.5 107v2M359.5 303v2M356.5 297v2M416.5 283v2M405.5 310v2M138.5 195v2M638.5 108v2M816.5 114v2M195.5 213v2M413.5 291v2M838.5 146v2M429.5 249v2M17.5 160v3M134.5 187v2M610.5 116v2M444.5 209v2M279.5 258v2M766.5 116v2M301.5 282v2M280.5 260v2M31.5 192v2M354.5 293v2M305.5 289v2M427.5 254v2M855.5 179v2M402.5 318v2M147.5 214v2M765.5 118v2M132.5 183v2M814.5 110v2M5.5 119v4M589.5 149v2M278.5 256v2M33.5 195v2M654.5 134v2M397.5 329v2M285.5 271v2M25.5 181v2M646.5 119v2M752.5 143v2M11.5 139v4M875.5 213v2M404.5 312v3M74.5 176v2M363.5 315v4M412.5 293v3M251.5 231v2M820.5 122v2M35.5 198v2M751.5 145v2M595.5 139v2M24.5 179v2M645.5 117v2M750.5 147v2M358.5 301v2M848.5 165v2M140.5 199v3M435.5 232v3M590.5 147v2M398.5 327v2M773.5 103v2M22.5 175v2M422.5 267v3M281.5 262v2M157.5 233v2M160.5 237v2M307.5 292v2M438.5 223v3M557.5 180v2M446.5 205v2M857.5 183v2M553.5 187v2M768.5 112v2M322.5 290v2M149.5 218v2M349.5 285v2M14.5 150v3M813.5 108v2M445.5 207v2M194.5 215v2M552.5 189v2M767.5 114v2M603.5 127v2M190.5 223v2M302.5 284v2M763.5 121v2M428.5 251v3M747.5 153v2M759.5 127v2M856.5 181v2M859.5 187v2M551.5 191v2M148.5 216v2M648.5 123v2M486.5 210v2M351.5 288v2M189.5 225v2M133.5 185v2M185.5 232v2M415.5 285v3M364.5 319v2M181.5 238v2M655.5 136v2M658.5 140v2M613.5 111v2M414.5 288v3M647.5 121v2M605.5 124v2M776.5 99v2M450.5 199v2M850.5 169v2M142.5 204v2M608.5 119v2M401.5 320v3M871.5 205v2M255.5 238v2M421.5 270v2M425.5 259v3M7.5 126v3M400.5 323v2M10.5 136v3M490.5 215v2M441.5 215v2M842.5 151v2M845.5 156v3M408.5 303v3M548.5 197v2M746.5 155v2M852.5 173v2M758.5 129v2M849.5 167v2M141.5 202v2M742.5 162v2M754.5 136v3M873.5 209v2M253.5 235v2M870.5 203v2M823.5 127v2M151.5 222v2M432.5 242v3M16.5 156v4M407.5 306v2M19.5 166v4M741.5 164v2M815.5 112v2M566.5 168v2M282.5 264v3M737.5 170v2M844.5 154v2M360.5 305v3M858.5 185v2M150.5 220v2M153.5 226v2M825.5 130v2M418.5 277v3M135.5 189v2M70.5 181v2M817.5 116v2M827.5 133v2M619.5 103v2M440.5 217v3M355.5 295v2M137.5 193v2M6.5 123v3M144.5 208v2M782.5 91v2M231.5 218v2M555.5 183v2M570.5 163v2M26.5 183v2M753.5 139v4M651.5 129v2M300.5 280v2M353.5 291v2M851.5 171v2M854.5 177v2M593.5 142v2M146.5 212v2M143.5 206v2M872.5 207v2M252.5 233v2M4.5 117v2M480.5 203v2M491.5 217v2M284.5 269v2M152.5 224v2M560.5 176v2M819.5 120v2M430.5 247v2M136.5 191v2M748.5 151v2M76 174.5h3M91 174.5h4M109 174.5h2M562 174.5h1M715 174.5h11M734 174.5h1M784 89.5h9M51 199.5h1M476 199.5h1M547 199.5h1M698 163.5h2M99 172.5h6M711 172.5h2M736 172.5h1M54 196.5h1M455 196.5h12M470 196.5h2M865 196.5h1M55 195.5h1M467 195.5h3M268 251.5h5M75 175.5h1M79 175.5h4M87 175.5h4M111 175.5h2M123 175.5h2M561 175.5h1M726 175.5h3M733 175.5h1M206 207.5h2M215 207.5h4M483 207.5h1M534 207.5h2M914 207.5h1M506 216.5h2M511 216.5h10M877 216.5h1M894 216.5h3M612 113.5h1M641 112.5h1M492 219.5h3M501 219.5h2M879 219.5h1M889 219.5h2M321 292.5h1M198 210.5h1M224 210.5h2M530 210.5h1M910 210.5h1M196 212.5h1M487 212.5h1M528 212.5h1M907 212.5h2M564 171.5h1M709 171.5h2M297 280.5h3M61 189.5h2M860 189.5h1M578 158.5h2M674 158.5h1M83 176.5h4M113 176.5h1M121 176.5h2M125 176.5h1M729 176.5h4M801 96.5h1M95 173.5h4M105 173.5h4M713 173.5h2M735 173.5h1M376 334.5h3M382 334.5h3M208 206.5h7M482 206.5h1M536 206.5h1M915 206.5h1M304 288.5h1M324 288.5h11M37 201.5h1M48 201.5h1M449 201.5h1M478 201.5h1M544 201.5h2M34 197.5h1M53 197.5h1M452 197.5h3M472 197.5h2M866 197.5h1M620 102.5h3M631 102.5h1M774 102.5h1M807 102.5h1M200 208.5h6M219 208.5h3M484 208.5h1M532 208.5h2M913 208.5h1M38 202.5h1M47 202.5h1M448 202.5h1M479 202.5h1M542 202.5h2M594 141.5h1M833 141.5h1M707 169.5h1M738 169.5h1M659 142.5h1M834 142.5h1M286 273.5h1M287 274.5h1M72 179.5h1M128 179.5h1M558 179.5h1M368 325.5h1M781 93.5h1M796 93.5h2M569 165.5h1M702 165.5h2M379 335.5h3M230 217.5h1M504 217.5h2M892 217.5h2M568 166.5h1M704 166.5h1M740 166.5h1M571 162.5h1M683 162.5h6M695 162.5h3M52 198.5h1M451 198.5h1M474 198.5h2M68 184.5h1M267 250.5h1M162 240.5h1M179 240.5h2M256 240.5h1M164 242.5h2M171 242.5h4M258 242.5h1M163 241.5h1M175 241.5h4M257 241.5h1M158 235.5h1M36 200.5h1M49 200.5h2M477 200.5h1M546 200.5h1M868 200.5h1M292 279.5h5M335 287.5h4M350 287.5h1M576 159.5h2M675 159.5h1M777 98.5h1M803 98.5h1M804 99.5h1M617 106.5h1M636 106.5h1M811 106.5h1M199 209.5h1M222 209.5h2M485 209.5h1M531 209.5h1M911 209.5h2M263 247.5h2M764 120.5h1M232 220.5h1M495 220.5h6M880 220.5h9M668 152.5h1M572 161.5h2M679 161.5h4M689 161.5h6M743 161.5h1M585 154.5h1M670 154.5h1M661 144.5h1M836 144.5h1M73 178.5h1M116 178.5h2M127 178.5h1M559 178.5h1M289 276.5h1M618 105.5h1M635 105.5h1M772 105.5h1M810 105.5h1M503 218.5h1M891 218.5h1M197 211.5h1M226 211.5h1M529 211.5h1M909 211.5h1M228 214.5h1M489 214.5h1M525 214.5h2M899 214.5h4M30 191.5h1M59 191.5h1M623 101.5h4M629 101.5h2M775 101.5h1M806 101.5h1M607 121.5h1M783 90.5h1M793 90.5h1M239 225.5h6M311 296.5h1M317 296.5h1M583 155.5h2M671 155.5h1M488 213.5h1M527 213.5h1M903 213.5h4M372 330.5h1M637 107.5h1M812 107.5h1M245 226.5h2M247 227.5h1M374 332.5h1M387 332.5h9M339 286.5h4M40 204.5h5M539 204.5h1M640 111.5h1M39 203.5h1M45 203.5h2M540 203.5h2M586 153.5h2M669 153.5h1M843 153.5h1M580 157.5h1M673 157.5h1M706 168.5h1M375 333.5h1M385 333.5h2M248 228.5h2M166 243.5h1M169 243.5h2M259 243.5h1M780 94.5h1M798 94.5h2M114 177.5h2M118 177.5h3M126 177.5h1M643 115.5h1M273 252.5h3M266 249.5h1M291 278.5h1M615 109.5h1M565 170.5h1M708 170.5h1M57 193.5h1M863 193.5h1M69 183.5h1M652 131.5h1M757 131.5h1M65 186.5h2M261 245.5h1M574 160.5h2M676 160.5h3M632 103.5h1M808 103.5h1M644 116.5h1M591 146.5h1M663 146.5h1M700 164.5h2M481 205.5h1M537 205.5h2M916 205.5h1M604 126.5h1M760 126.5h1M822 126.5h1M508 215.5h3M521 215.5h4M876 215.5h1M897 215.5h2M309 295.5h2M318 295.5h1M156 232.5h1M660 143.5h1M835 143.5h1M347 284.5h2M352 290.5h1M373 331.5h1M159 236.5h1M599 134.5h1M662 145.5h1M837 145.5h1M290 277.5h1M71 180.5h1M129 180.5h1M581 156.5h2M672 156.5h1M609 118.5h1M67 185.5h1M839 148.5h1M167 244.5h2M260 244.5h1M314 298.5h2M131 182.5h1M556 182.5h1M32 194.5h1M56 194.5h1M596 138.5h1M656 138.5h1M831 138.5h1M633 104.5h2M809 104.5h1M666 150.5h1M841 150.5h1M234 222.5h1M60 190.5h1M778 97.5h1M802 97.5h1M184 234.5h1M323 289.5h1M343 285.5h4M824 129.5h1M236 224.5h3M828 135.5h1M600 133.5h1M627 100.5h2M805 100.5h1M795 92.5h1M306 291.5h1M186 231.5h1M826 132.5h1M312 297.5h2M316 297.5h1M614 110.5h1M639 110.5h1M365 321.5h1M161 239.5h1M308 294.5h1M319 294.5h1M800 95.5h1M63 188.5h1M367 324.5h1M233 221.5h1M657 139.5h1M262 246.5h1M762 123.5h1M667 151.5h1M58 192.5h1M862 192.5h1M369 326.5h1M567 167.5h1M705 167.5h1M182 237.5h1M254 237.5h1M235 223.5h1M320 293.5h1M64 187.5h1M371 329.5h1M597 137.5h1M830 137.5h1M288 275.5h1M794 91.5h1M265 248.5h1M130 181.5h1M829 136.5h1M665 149.5h1M840 149.5h1" fill="none" stroke="#0000cd" stroke-width="1" shape-rendering="crispEdges"/>
<g shape-rendering="crispEdges">
<rect x="4" y="136" width="1" height="35" fill="#32cd32" />
<rect x="4" y="139" width="3" height="26" fill="#32cd32" />
<rect x="12" y="155" width="1" height="73" fill="#32cd32" />
<rect x="10" y="171" width="5" height="46" fill="#32cd32" />
<rect x="20" y="209" width="1" height="36" fill="#32cd32" />
<rect x="18" y="216" width="5" height="4" fill="#32cd32" />
<rect x="28" y="200" width="1" height="28" fill="#ff0000" />
<rect x="26" y="203" width="5" height="17" fill="#ff0000" />
<rect x="27" y="204" width="3" height="15" fill="#ff4500" />
<rect x="36" y="199" width="1" height="34" fill="#32cd32" />
<rect x="34" y="203" width="5" height="7" fill="#32cd32" />
<rect x="44" y="180" width="1" height="42" fill="#ff0000" />
<rect x="42" y="184" width="5" height="26" fill="#ff0000" />
<rect x="43" y="185" width="3" height="24" fill="#ff4500" />
<rect x="52" y="180" width="1" height="9" fill="#32cd32" />
<rect x="50" y="184" width="5" height="2" fill="#32cd32" />
<rect x="60" y="168" width="1" height="36" fill="#ff0000" />
<rect x="58" y="173" width="5" height="18" fill="#ff0000" />
<rect x="59" y="174" width="3" height="16" fill="#ff4500" />
<rect x="68" y="159" width="1" height="25" fill="#ff0000" />
<rect x="66" y="171" width="5" height="3" fill="#ff0000" />
<rect x="67" y="172" width="3" height="1" fill="#ff4500" />
<rect x="76" y="156" width="1" height="25" fill="#ff0000" />
<rect x="74" y="159" width="5" height="13" fill="#ff0000" />
<rect x="75" y="160" width="3" height="11" fill="#ff4500" />
<rect x="84" y="158" width="1" height="80" fill="#32cd32" />
<rect x="82" y="158" width="5" height="41" fill="#32cd32" />
<rect x="92" y="158" width="1" height="52" fill="#ff0000" />
<rect x="90" y="170" width="5" height="29" fill="#ff0000" />
<rect x="91" y="171" width="3" height="27" fill="#ff4500" />
<rect x="100" y="162" width="1" height="16" fill="#ff0000" />
<rect x="98" y="165" width="5" height="6" fill="#ff0000" />
<rect x="99" y="166" width="3" height="4" fill="#ff4500" />
<rect x="108" y="165" width="1" height="30" fill="#32cd32" />
<rect x="106" y="168" width="5" height="11" fill="#32cd32" />
<rect x="116" y="171" width="1" height="54" fill="#32cd32" />
<rect x="114" y="178" width="5" height="10" fill="#32cd32" />
<rect x="124" y="154" width="1" height="37" fill="#ff0000" />
<rect x="122" y="177" width="5" height="11" fill="#ff0000" />
<rect x="123" y="178" width="3" height="9" fill="#ff4500" />
<rect x="132" y="171" width="1" height="87" fill="#32cd32" />
<rect x="130" y="177" width="5" height="58" fill="#32cd32" />
<rect x="140" y="213" width="1" height="35" fill="#32cd32" />
<rect x="138" y="235" width="5" height="1" fill="#32cd32" />
<rect x="148" y="231" width="1" height="31" fill="#32cd32" />
<rect x="146" y="235" width="5" height="25" fill="#32cd32" />
<rect x="156" y="244" width="1" height="37" fill="#32cd32" />
<rect x="154" y="250" width="5" height="10" fill="#32cd32" />
<rect x="164" y="233" width="1" height="53" fill="#ff0000" />
<rect x="162" y="233" width="5" height="27" fill="#ff0000" />
<rect x="163" y="234" width="3" height="25" fill="#ff4500" />
<rect x="172" y="193" width="1" height="45" fill="#ff0000" />
<rect x="170" y="231" width="5" height="3" fill="#ff0000" />
<rect x="171" y="232" width="3" height="1" fill="#ff4500" />
<rect x="180" y="203" width="1" height="39" fill="#ff0000" />
<rect x="178" y="219" width="5" height="12" fill="#ff0000" />
<rect x="179" y="220" width="3" height="10" fill="#ff4500" />
<rect x="188" y="177" width="1" height="52" fill="#ff0000" />
<rect x="186" y="193" width="5" height="26" fill="#ff0000" />
<rect x="187" y="194" width="3" height="24" fill="#ff4500" />
<rect x="196" y="180" width="1" height="16" fill="#ff0000" />
<rect x="194" y="181" width="5" height="13" fill="#ff0000" />
<rect x="195" y="182" width="3" height="11" fill="#ff4500" />
<rect x="204" y="178" width="1" height="59" fill="#32cd32" />
<rect x="202" y="188" width="5" height="25" fill="#32cd32" />
<rect x="212" y="211" width="1" height="42" fill="#32cd32" />
<rect x="210" y="212" width="5" height="16" fill="#32cd32" />
<rect x="220" y="214" width="1" height="33" fill="#ff0000" />
<rect x="218" y="226" width="5" height="2" fill="#ff0000" />
<rect x="228" y="202" width="1" height="83" fill="#ff0000" />
<rect x="226" y="222" width="5" height="5" fill="#ff0000" />
<rect x="227" y="223" width="3" height="3" fill="#ff4500" />
<rect x="236" y="218" width="1" height="88" fill="#32cd32" />
<rect x="234" y="222" width="5" height="24" fill="#32cd32" />
<rect x="244" y="206" width="1" height="46" fill="#ff0000" />
<rect x="242" y="208" width="5" height="37" fill="#ff0000" />
<rect x="243" y="209" width="3" height="35" fill="#ff4500" />
<rect x="252" y="206" width="1" height="80" fill="#32cd32" />
<rect x="250" y="218" width="5" height="42" fill="#32cd32" />
<rect x="260" y="257" width="1" height="36" fill="#32cd32" />
<rect x="258" y="259" width="5" height="29" fill="#32cd32" />
<rect x="268" y="226" width="1" height="71" fill="#ff0000" />
<rect x="266" y="256" width="5" height="38" fill="#ff0000" />
<rect x="267" y="257" width="3" height="36" fill="#ff4500" />
<rect x="276" y="195" width="1" height="111" fill="#ff0000" />
<rect x="274" y="253" width="5" height="4" fill="#ff0000" />
<rect x="275" y="254" width="3" height="2" fill="#ff4500" />
<rect x="284" y="243" width="1" height="109" fill="#32cd32" />
<rect x="282" y="254" width="5" height="53" fill="#32cd32" />
<rect x="292" y="289" width="1" height="26" fill="#ff0000" />
<rect x="290" y="291" width="5" height="16" fill="#ff0000" />
<rect x="291" y="292" width="3" height="14" fill="#ff4500" />
<rect x="300" y="275" width="1" height="42" fill="#ff0000" />
<rect x="298" y="295" width="5" height="13" fill="#ff0000" />
<rect x="299" y="296" width="3" height="11" fill="#ff4500" />
<rect x="308" y="291" width="1" height="48" fill="#32cd32" />
<rect x="306" y="295" width="5" height="39" fill="#32cd32" />
<rect x="316" y="257" width="1" height="89" fill="#ff0000" />
<rect x="314" y="266" width="5" height="68" fill="#ff0000" />
<rect x="315" y="267" width="3" height="66" fill="#ff4500" />
<rect x="324" y="234" width="1" height="67" fill="#ff0000" />
<rect x="322" y="258" width="5" height="9" fill="#ff0000" />
<rect x="323" y="259" width="3" height="7" fill="#ff4500" />
<rect x="332" y="245" width="1" height="50" fill="#32cd32" />
<rect x="330" y="258" width="5" height="33" fill="#32cd32" />
<rect x="340" y="279" width="1" height="16" fill="#ff0000" />
<rect x="338" y="285" width="5" height="6" fill="#ff0000" />
<rect x="339" y="286" width="3" height="4" fill="#ff4500" />
<rect x="348" y="279" width="1" height="75" fill="#32cd32" />
<rect x="346" y="281" width="5" height="49" fill="#32cd32" />
<rect x="356" y="311" width="1" height="42" fill="#32cd32" />
<rect x="354" y="328" width="5" height="2" fill="#32cd32" />
<rect x="364" y="324" width="1" height="80" fill="#32cd32" />
<rect x="362" y="328" width="5" height="42" fill="#32cd32" />
<rect x="372" y="331" width="1" height="87" fill="#ff0000" />
<rect x="370" y="340" width="5" height="30" fill="#ff0000" />
<rect x="371" y="341" width="3" height="28" fill="#ff4500" />
<rect x="380" y="292" width="1" height="50" fill="#ff0000" />
<rect x="378" y="317" width="5" height="24" fill="#ff0000" />
<rect x="379" y="318" width="3" height="22" fill="#ff4500" />
<rect x="388" y="301" width="1" height="21" fill="#ff0000" />
<rect x="386" y="302" width="5" height="16" fill="#ff0000" />
<rect x="387" y="303" width="3" height="14" fill="#ff4500" />
<rect x="396" y="301" width="1" height="39" fill="#32cd32" />
<rect x="394" y="312" width="5" height="21" fill="#32cd32" />
<rect x="404" y="279" width="1" height="64" fill="#ff0000" />
<rect x="402" y="288" width="5" height="45" fill="#ff0000" />
<rect x="403" y="289" width="3" height="43" fill="#ff4500" />
<rect x="412" y="243" width="1" height="46" fill="#ff0000" />
<rect x="410" y="248" width="5" height="41" fill="#ff0000" />
<rect x="411" y="249" width="3" height="39" fill="#ff4500" />
<rect x="420" y="203" width="1" height="59" fill="#ff0000" />
<rect x="418" y="212" width="5" height="36" fill="#ff0000" />
<rect x="419" y="213" width="3" height="34" fill="#ff4500" />
<rect x="428" y="200" width="1" height="24" fill="#ff0000" />
<rect x="426" y="203" width="5" height="10" fill="#ff0000" />
<rect x="427" y="204" width="3" height="8" fill="#ff4500" />
<rect x="436" y="199" width="1" height="9" fill="#32cd32" />
<rect x="434" y="203" width="5" height="3" fill="#32cd32" />
<rect x="444" y="173" width="1" height="38" fill="#ff0000" />
<rect x="442" y="183" width="5" height="26" fill="#ff0000" />
<rect x="443" y="184" width="3" height="24" fill="#ff4500" />
<rect x="452" y="174" width="1" height="23" fill="#32cd32" />
<rect x="450" y="183" width="5" height="1" fill="#32cd32" />
<rect x="460" y="171" width="1" height="31" fill="#32cd32" />
<rect x="458" y="183" width="5" height="18" fill="#32cd32" />
<rect x="468" y="191" width="1" height="31" fill="#32cd32" />
<rect x="466" y="200" width="5" height="10" fill="#32cd32" />
<rect x="476" y="183" width="1" height="41" fill="#32cd32" />
<rect x="474" y="209" width="5" height="15" fill="#32cd32" />
<rect x="484" y="219" width="1" height="14" fill="#32cd32" />
<rect x="482" y="223" width="5" height="3" fill="#32cd32" />
<rect x="492" y="222" width="1" height="22" fill="#32cd32" />
<rect x="490" y="224" width="5" height="17" fill="#32cd32" />
<rect x="500" y="203" width="1" height="45" fill="#ff0000" />
<rect x="498" y="208" width="5" height="33" fill="#ff0000" />
<rect x="499" y="209" width="3" height="31" fill="#ff4500" />
<rect x="508" y="167" width="1" height="48" fill="#ff0000" />
<rect x="506" y="178" width="5" height="31" fill="#ff0000" />
<rect x="507" y="179" width="3" height="29" fill="#ff4500" />
<rect x="516" y="169" width="1" height="77" fill="#32cd32" />
<rect x="514" y="178" width="5" height="58" fill="#32cd32" />
<rect x="524" y="195" width="1" height="41" fill="#ff0000" />
<rect x="522" y="216" width="5" height="20" fill="#ff0000" />
<rect x="523" y="217" width="3" height="18" fill="#ff4500" />
<rect x="532" y="205" width="1" height="21" fill="#ff0000" />
<rect x="530" y="205" width="5" height="12" fill="#ff0000" />
<rect x="531" y="206" width="3" height="10" fill="#ff4500" />
<rect x="540" y="167" width="1" height="41" fill="#ff0000" />
<rect x="538" y="184" width="5" height="23" fill="#ff0000" />
<rect x="539" y="185" width="3" height="21" fill="#ff4500" />
<rect x="548" y="143" width="1" height="44" fill="#ff0000" />
<rect x="546" y="161" width="5" height="24" fill="#ff0000" />
<rect x="547" y="162" width="3" height="22" fill="#ff4500" />
<rect x="556" y="149" width="1" height="26" fill="#ff0000" />
<rect x="554" y="154" width="5" height="8" fill="#ff0000" />
<rect x="555" y="155" width="3" height="6" fill="#ff4500" />
<rect x="564" y="136" width="1" height="24" fill="#000" />
<rect x="562" y="154" width="5" height="1" fill="#000" />
<rect x="572" y="137" width="1" height="29" fill="#32cd32" />
<rect x="570" y="154" width="5" height="5" fill="#32cd32" />
<rect x="580" y="154" width="1" height="13" fill="#32cd32" />
<rect x="578" y="158" width="5" height="5" fill="#32cd32" />
<rect x="588" y="114" width="1" height="58" fill="#ff0000" />
<rect x="586" y="125" width="5" height="45" fill="#ff0000" />
<rect x="587" y="126" width="3" height="43" fill="#ff4500" />
<rect x="596" y="79" width="1" height="51" fill="#ff0000" />
<rect x="594" y="97" width="5" height="28" fill="#ff0000" />
<rect x="595" y="98" width="3" height="26" fill="#ff4500" />
<rect x="604" y="93" width="1" height="31" fill="#ff0000" />
<rect x="602" y="93" width="5" height="5" fill="#ff0000" />
<rect x="603" y="94" width="3" height="3" fill="#ff4500" />
<rect x="612" y="74" width="1" height="40" fill="#32cd32" />
<rect x="610" y="93" width="5" height="5" fill="#32cd32" />
<rect x="620" y="81" width="1" height="42" fill="#32cd32" />
<rect x="618" y="97" width="5" height="4" fill="#32cd32" />
<rect x="628" y="98" width="1" height="24" fill="#32cd32" />
<rect x="626" y="100" width="5" height="18" fill="#32cd32" />
<rect x="636" y="116" width="1" height="25" fill="#32cd32" />
<rect x="634" y="122" width="5" height="4" fill="#32cd32" />
<rect x="644" y="107" width="1" height="51" fill="#32cd32" />
<rect x="642" y="126" width="5" height="21" fill="#32cd32" />
<rect x="652" y="143" width="1" height="25" fill="#32cd32" />
<rect x="650" y="145" width="5" height="22" fill="#32cd32" />
<rect x="660" y="142" width="1" height="38" fill="#ff0000" />
<rect x="658" y="166" width="5" height="1" fill="#ff0000" />
<rect x="668" y="140" width="1" height="32" fill="#ff0000" />
<rect x="666" y="163" width="5" height="4" fill="#ff0000" />
<rect x="667" y="164" width="3" height="2" fill="#ff4500" />
<rect x="676" y="160" width="1" height="14" fill="#ff0000" />
<rect x="674" y="161" width="5" height="2" fill="#ff0000" />
<rect x="684" y="154" width="1" height="24" fill="#32cd32" />
<rect x="682" y="160" width="5" height="2" fill="#32cd32" />
<rect x="692" y="144" width="1" height="24" fill="#ff0000" />
<rect x="690" y="156" width="5" height="5" fill="#ff0000" />
<rect x="691" y="157" width="3" height="3" fill="#ff4500" />
<rect x="700" y="153" width="1" height="44" fill="#32cd32" />
<rect x="698" y="156" width="5" height="19" fill="#32cd32" />
<rect x="708" y="149" width="1" height="80" fill="#32cd32" />
<rect x="706" y="174" width="5" height="25" fill="#32cd32" />
<rect x="716" y="154" width="1" height="45" fill="#ff0000" />
<rect x="714" y="182" width="5" height="17" fill="#ff0000" />
<rect x="715" y="183" width="3" height="15" fill="#ff4500" />
<rect x="724" y="162" width="1" height="20" fill="#ff0000" />
<rect x="722" y="166" width="5" height="16" fill="#ff0000" />
<rect x="723" y="167" width="3" height="14" fill="#ff4500" />
<rect x="732" y="144" width="1" height="35" fill="#ff0000" />
<rect x="730" y="163" width="5" height="16" fill="#ff0000" />
<rect x="731" y="164" width="3" height="14" fill="#ff4500" />
<rect x="740" y="121" width="1" height="55" fill="#ff0000" />
<rect x="738" y="129" width="5" height="34" fill="#ff0000" />
<rect x="739" y="130" width="3" height="32" fill="#ff4500" />
<rect x="748" y="111" width="1" height="24" fill="#ff0000" />
<rect x="746" y="124" width="5" height="6" fill="#ff0000" />
<rect x="747" y="125" width="3" height="4" fill="#ff4500" />
<rect x="756" y="82" width="1" height="49" fill="#ff0000" />
<rect x="754" y="88" width="5" height="37" fill="#ff0000" />
<rect x="755" y="89" width="3" height="35" fill="#ff4500" />
<rect x="764" y="50" width="1" height="50" fill="#32cd32" />
<rect x="762" y="88" width="5" height="6" fill="#32cd32" />
<rect x="772" y="91" width="1" height="9" fill="#32cd32" />
<rect x="770" y="93" width="5" height="4" fill="#32cd32" />
<rect x="780" y="61" width="1" height="39" fill="#ff0000" />
<rect x="778" y="63" width="5" height="29" fill="#ff0000" />
<rect x="779" y="64" width="3" height="27" fill="#ff4500" />
<rect x="788" y="54" width="1" height="52" fill="#32cd32" />
<rect x="786" y="63" width="5" height="29" fill="#32cd32" />
<rect x="796" y="86" width="1" height="37" fill="#32cd32" />
<rect x="794" y="91" width="5" height="32" fill="#32cd32" />
<rect x="804" y="116" width="1" height="23" fill="#32cd32" />
<rect x="802" y="121" width="5" height="2" fill="#32cd32" />
<rect x="812" y="115" width="1" height="38" fill="#32cd32" />
<rect x="810" y="121" width="5" height="19" fill="#32cd32" />
<rect x="820" y="132" width="1" height="11" fill="#32cd32" />
<rect x="818" y="139" width="5" height="2" fill="#32cd32" />
<rect x="828" y="139" width="1" height="26" fill="#32cd32" />
<rect x="826" y="146" width="5" height="14" fill="#32cd32" />
<rect x="836" y="145" width="1" height="31" fill="#32cd32" />
<rect x="834" y="159" width="5" height="3" fill="#32cd32" />
<rect x="844" y="153" width="1" height="39" fill="#32cd32" />
<rect x="842" y="161" width="5" height="25" fill="#32cd32" />
<rect x="852" y="183" width="1" height="75" fill="#32cd32" />
<rect x="850" y="184" width="5" height="47" fill="#32cd32" />
<rect x="860" y="189" width="1" height="50" fill="#ff0000" />
<rect x="858" y="216" width="5" height="15" fill="#ff0000" />
<rect x="859" y="217" width="3" height="13" fill="#ff4500" />
<rect x="868" y="200" width="1" height="25" fill="#ff0000" />
<rect x="866" y="212" width="5" height="5" fill="#ff0000" />
<rect x="867" y="213" width="3" height="3" fill="#ff4500" />
<rect x="876" y="207" width="1" height="33" fill="#32cd32" />
<rect x="874" y="217" width="5" height="18" fill="#32cd32" />
<rect x="884" y="205" width="1" height="39" fill="#ff0000" />
<rect x="882" y="215" width="5" height="20" fill="#ff0000" />
<rect x="883" y="216" width="3" height="18" fill="#ff4500" />
<rect x="892" y="192" width="1" height="56" fill="#ff0000" />
<rect x="890" y="211" width="5" height="5" fill="#ff0000" />
<rect x="891" y="212" width="3" height="3" fill="#ff4500" />
<rect x="900" y="186" width="1" height="38" fill="#ff0000" />
<rect x="898" y="204" width="5" height="7" fill="#ff0000" />
<rect x="899" y="205" width="3" height="5" fill="#ff4500" />
<rect x="908" y="184" width="1" height="28" fill="#ff0000" />
<rect x="906" y="196" width="5" height="10" fill="#ff0000" />
<rect x="907" y="197" width="3" height="8" fill="#ff4500" />
<rect x="916" y="195" width="1" height="11" fill="#32cd32" />
<rect x="914" y="196" width="5" height="3" fill="#32cd32" />
<rect x="700" y="122" width="285" height="2" fill="#ff2020" />
<rect x="695" y="181" width="287" height="2" fill="#8ec800" />
<rect x="499" y="250" width="485" height="2" fill="#2080e0" />
</g>
<defs><linearGradient id="g1" gradientUnits="userSpaceOnUse" x1="0" y1="50" x2="0" y2="114"><stop offset="0" stop-color="#5454f4"/><stop offset="0.45" stop-color="#2f2fd6"/><stop offset="1" stop-color="#0000a4"/></linearGradient>
<linearGradient id="g2a" x1="0" y1="0" x2="0" y2="1"><stop offset="0" stop-color="#f0f0f0"/><stop offset="1" stop-color="#e4e4e4"/></linearGradient><linearGradient id="g2b" x1="0" y1="0" x2="0" y2="1"><stop offset="0" stop-color="#d4d4d4"/><stop offset="1" stop-color="#dadada"/></linearGradient></defs>
<g shape-rendering="crispEdges">
<path d="M7 50H59V74H116V114H7Z" fill="url(#g1)"/>
<path d="M226 50H174V74H118V114H226Z" fill="url(#g1)"/>
<path d="M7.5 50.5H58.5V74.5H115.5V113.5H7.5Z" fill="none" stroke="#0000a8" stroke-opacity="0.55"/>
<path d="M225.5 50.5H174.5V74.5H118.5V113.5H225.5Z" fill="none" stroke="#0000a8" stroke-opacity="0.55"/>
<rect x="11" y="73" width="44" height="1" fill="#1010a8" />
<rect x="11" y="74" width="44" height="1" fill="#a4a4f4" />
<rect x="178" y="73" width="44" height="1" fill="#1010a8" />
<rect x="178" y="74" width="44" height="1" fill="#a4a4f4" />
<rect x="61" y="50" width="111" height="22" fill="#a8acb4" />
<rect x="62" y="51" width="109" height="20" fill="#ffffff" />
<rect x="62" y="51" width="20" height="20" fill="#f6f6f6" />
<rect x="63" y="52" width="18" height="6" fill="url(#g2a)" />
<rect x="63" y="58" width="18" height="12" fill="url(#g2b)" />
<rect x="151" y="51" width="20" height="20" fill="#f6f6f6" />
<rect x="152" y="52" width="18" height="6" fill="url(#g2a)" />
<rect x="152" y="58" width="18" height="12" fill="url(#g2b)" />
<rect x="82" y="51" width="1" height="20" fill="#a8acb4" />
<rect x="150" y="51" width="1" height="20" fill="#a8acb4" />
<rect x="69" y="59" width="5" height="1" fill="#6880d0" />
<rect x="70" y="60" width="3" height="1" fill="#5060a8" />
<rect x="71" y="61" width="1" height="1" fill="#404870" />
<rect x="160" y="59" width="1" height="1" fill="#98a8e0" />
<rect x="159" y="60" width="3" height="1" fill="#7088d8" />
<rect x="158" y="61" width="5" height="1" fill="#5870c8" />
</g>
<g shape-rendering="crispEdges">
<rect x="1168" y="193" width="41" height="11" fill="#000" />
<rect x="1167" y="193" width="1" height="1" fill="#000" />
</g>
<polygon points="7,41 14,41 10.5,37" fill="#000"/>
<text x="0.1" y="18" font-size="10.2" fill="#3c3c3c" font-weight="normal" text-anchor="start" textLength="5.2" lengthAdjust="spacingAndGlyphs"  >5</text>
<text x="14.79" y="18" font-size="10.2" fill="#3c3c3c" font-weight="normal" text-anchor="start" textLength="18.83" lengthAdjust="spacingAndGlyphs"  >M30</text>
<text x="46.19" y="18" font-size="10.2" fill="#3c3c3c" font-weight="normal" text-anchor="start" textLength="12.33" lengthAdjust="spacingAndGlyphs"  >H1</text>
<text x="73.09" y="18" font-size="10.2" fill="#3c3c3c" font-weight="normal" text-anchor="start" textLength="13.33" lengthAdjust="spacingAndGlyphs"  >H4</text>
<text x="101.99" y="18" font-size="10.2" fill="#3c3c3c" font-weight="normal" text-anchor="start" textLength="12.73" lengthAdjust="spacingAndGlyphs"  >D1</text>
<text x="129.29" y="18" font-size="10.2" fill="#3c3c3c" font-weight="normal" text-anchor="start" textLength="15.63" lengthAdjust="spacingAndGlyphs"  >W1</text>
<text x="155.99" y="18" font-size="10.2" fill="#3c3c3c" font-weight="normal" text-anchor="start" textLength="15.83" lengthAdjust="spacingAndGlyphs"  >MN</text>
<text x="18.59" y="42" font-size="10.2" fill="#000" font-weight="normal" text-anchor="start" textLength="66.13" lengthAdjust="spacingAndGlyphs" stroke="#000" stroke-width="0.15" >USDCHF,Daily</text>
<text x="89.89" y="42" font-size="10.2" fill="#000" font-weight="normal" text-anchor="start" textLength="141.33" lengthAdjust="spacingAndGlyphs" stroke="#000" stroke-width="0.15" >0.99613 0.99621 0.99500 0.99592</text>
<text x="7.99" y="442" font-size="10.2" fill="#000" font-weight="normal" text-anchor="start" textLength="154.43" lengthAdjust="spacingAndGlyphs" stroke="#000" stroke-width="0.15" >MACD(12,26,9) -0.001897 -0.001741</text>
<text x="7.79" y="512" font-size="10.2" fill="#000" font-weight="normal" text-anchor="start" textLength="68.73" lengthAdjust="spacingAndGlyphs" stroke="#000" stroke-width="0.15" >RSI(14) 43.9066</text>
<text x="1172.09" y="65" font-size="10.2" fill="#000" font-weight="normal" text-anchor="start" textLength="33.23" lengthAdjust="spacingAndGlyphs" stroke="#000" stroke-width="0.15" >1.01110</text>
<text x="1172.09" y="98" font-size="10.2" fill="#000" font-weight="normal" text-anchor="start" textLength="33.23" lengthAdjust="spacingAndGlyphs" stroke="#000" stroke-width="0.15" >1.00740</text>
<text x="1172.09" y="131" font-size="10.2" fill="#000" font-weight="normal" text-anchor="start" textLength="33.23" lengthAdjust="spacingAndGlyphs" stroke="#000" stroke-width="0.15" >1.00380</text>
<text x="1172.09" y="164" font-size="10.2" fill="#000" font-weight="normal" text-anchor="start" textLength="33.23" lengthAdjust="spacingAndGlyphs" stroke="#000" stroke-width="0.15" >1.00010</text>
<text x="1172.09" y="197" font-size="10.2" fill="#000" font-weight="normal" text-anchor="start" textLength="33.23" lengthAdjust="spacingAndGlyphs" stroke="#000" stroke-width="0.15" >0.99640</text>
<text x="1172.09" y="230" font-size="10.2" fill="#000" font-weight="normal" text-anchor="start" textLength="33.23" lengthAdjust="spacingAndGlyphs" stroke="#000" stroke-width="0.15" >0.99280</text>
<text x="1172.09" y="263" font-size="10.2" fill="#000" font-weight="normal" text-anchor="start" textLength="33.23" lengthAdjust="spacingAndGlyphs" stroke="#000" stroke-width="0.15" >0.98910</text>
<text x="1172.09" y="296" font-size="10.2" fill="#000" font-weight="normal" text-anchor="start" textLength="33.23" lengthAdjust="spacingAndGlyphs" stroke="#000" stroke-width="0.15" >0.98540</text>
<text x="1172.09" y="329" font-size="10.2" fill="#000" font-weight="normal" text-anchor="start" textLength="33.23" lengthAdjust="spacingAndGlyphs" stroke="#000" stroke-width="0.15" >0.98180</text>
<text x="1172.09" y="362" font-size="10.2" fill="#000" font-weight="normal" text-anchor="start" textLength="33.23" lengthAdjust="spacingAndGlyphs" stroke="#000" stroke-width="0.15" >0.97810</text>
<text x="1172.09" y="395" font-size="10.2" fill="#000" font-weight="normal" text-anchor="start" textLength="33.23" lengthAdjust="spacingAndGlyphs" stroke="#000" stroke-width="0.15" >0.97440</text>
<text x="1172.09" y="428" font-size="10.2" fill="#000" font-weight="normal" text-anchor="start" textLength="33.23" lengthAdjust="spacingAndGlyphs" stroke="#000" stroke-width="0.15" >0.97080</text>
<text x="1171.49" y="202" font-size="10.2" fill="#fff" font-weight="normal" text-anchor="start" textLength="34.23" lengthAdjust="spacingAndGlyphs" stroke="#fff" stroke-width="0.15" >0.99592</text>
<text x="1169.39" y="440" font-size="10.2" fill="#000" font-weight="normal" text-anchor="start" textLength="39.33" lengthAdjust="spacingAndGlyphs" stroke="#000" stroke-width="0.15" >0.004487</text>
<text x="1169.09" y="470" font-size="10.2" fill="#000" font-weight="normal" text-anchor="start" textLength="19.23" lengthAdjust="spacingAndGlyphs" stroke="#000" stroke-width="0.15" >0.00</text>
<text x="1169.69" y="494" font-size="10.2" fill="#000" font-weight="normal" text-anchor="start" textLength="41.73" lengthAdjust="spacingAndGlyphs" stroke="#000" stroke-width="0.15" >-0.003883</text>
<text x="1169.29" y="510" font-size="10.2" fill="#000" font-weight="normal" text-anchor="start" textLength="16.03" lengthAdjust="spacingAndGlyphs" stroke="#000" stroke-width="0.15" >100</text>
<text x="1168.89" y="529" font-size="10.2" fill="#000" font-weight="normal" text-anchor="start" textLength="10.13" lengthAdjust="spacingAndGlyphs" stroke="#000" stroke-width="0.15" >70</text>
<text x="1168.89" y="562" font-size="10.2" fill="#000" font-weight="normal" text-anchor="start" textLength="10.83" lengthAdjust="spacingAndGlyphs" stroke="#000" stroke-width="0.15" >30</text>
<text x="1169.29" y="580" font-size="10.2" fill="#000" font-weight="normal" text-anchor="start" textLength="6.23" lengthAdjust="spacingAndGlyphs" stroke="#000" stroke-width="0.15" >0</text>
<text x="3.25" y="596" font-size="10.2" fill="#000" font-weight="normal" text-anchor="start" textLength="53.9" lengthAdjust="spacingAndGlyphs" stroke="#000" stroke-width="0.15" >17 Nov 2018</text>
<text x="67.05" y="596" font-size="10.2" fill="#000" font-weight="normal" text-anchor="start" textLength="53.7" lengthAdjust="spacingAndGlyphs" stroke="#000" stroke-width="0.15" >27 Nov 2018</text>
<text x="131.25" y="596" font-size="10.2" fill="#000" font-weight="normal" text-anchor="start" textLength="46.7" lengthAdjust="spacingAndGlyphs" stroke="#000" stroke-width="0.15" >6 Dec 2018</text>
<text x="195.85" y="596" font-size="10.2" fill="#000" font-weight="normal" text-anchor="start" textLength="50.8" lengthAdjust="spacingAndGlyphs" stroke="#000" stroke-width="0.15" >15 Dec 2018</text>
<text x="259.25" y="596" font-size="10.2" fill="#000" font-weight="normal" text-anchor="start" textLength="51.5" lengthAdjust="spacingAndGlyphs" stroke="#000" stroke-width="0.15" >25 Dec 2018</text>
<text x="322.85" y="596" font-size="10.2" fill="#000" font-weight="normal" text-anchor="start" textLength="45.1" lengthAdjust="spacingAndGlyphs" stroke="#000" stroke-width="0.15" >3 Jan 2019</text>
<text x="387.55" y="596" font-size="10.2" fill="#000" font-weight="normal" text-anchor="start" textLength="49.6" lengthAdjust="spacingAndGlyphs" stroke="#000" stroke-width="0.15" >12 Jan 2019</text>
<text x="451.25" y="596" font-size="10.2" fill="#000" font-weight="normal" text-anchor="start" textLength="49.5" lengthAdjust="spacingAndGlyphs" stroke="#000" stroke-width="0.15" >22 Jan 2019</text>
<text x="514.85" y="596" font-size="10.2" fill="#000" font-weight="normal" text-anchor="start" textLength="50.3" lengthAdjust="spacingAndGlyphs" stroke="#000" stroke-width="0.15" >31 Jan 2019</text>
<text x="578.75" y="596" font-size="10.2" fill="#000" font-weight="normal" text-anchor="start" textLength="47.0" lengthAdjust="spacingAndGlyphs" stroke="#000" stroke-width="0.15" >9 Feb 2019</text>
<text x="643.75" y="596" font-size="10.2" fill="#000" font-weight="normal" text-anchor="start" textLength="51.4" lengthAdjust="spacingAndGlyphs" stroke="#000" stroke-width="0.15" >19 Feb 2019</text>
<text x="707.05" y="596" font-size="10.2" fill="#000" font-weight="normal" text-anchor="start" textLength="51.7" lengthAdjust="spacingAndGlyphs" stroke="#000" stroke-width="0.15" >28 Feb 2019</text>
<text x="771.25" y="596" font-size="10.2" fill="#000" font-weight="normal" text-anchor="start" textLength="47.5" lengthAdjust="spacingAndGlyphs" stroke="#000" stroke-width="0.15" >9 Mar 2019</text>
<text x="835.55" y="596" font-size="10.2" fill="#000" font-weight="normal" text-anchor="start" textLength="51.6" lengthAdjust="spacingAndGlyphs" stroke="#000" stroke-width="0.15" >19 Mar 2019</text>
<text x="899.55" y="596" font-size="10.2" fill="#000" font-weight="normal" text-anchor="start" textLength="51.6" lengthAdjust="spacingAndGlyphs" stroke="#000" stroke-width="0.15" >28 Mar 2019</text>
<text x="16.58" y="621" font-size="13.1" fill="#5c5c5c" font-weight="normal" text-anchor="start" textLength="69.33" lengthAdjust="spacingAndGlyphs"  >EURUSD,H4</text>
<text x="107.38" y="621" font-size="13.1" fill="#5c5c5c" font-weight="normal" text-anchor="start" textLength="71.53" lengthAdjust="spacingAndGlyphs"  >AUDUSD,H4</text>
<text x="198.78" y="621" font-size="13.1" fill="#000" font-weight="normal" text-anchor="start" textLength="79.63" lengthAdjust="spacingAndGlyphs"  >USDCHF,Daily</text>
<text x="299.88" y="621" font-size="13.1" fill="#5c5c5c" font-weight="normal" text-anchor="start" textLength="80.73" lengthAdjust="spacingAndGlyphs"  >USDCAD,Daily</text>
<text x="402.78" y="621" font-size="13.1" fill="#5c5c5c" font-weight="normal" text-anchor="start" textLength="83.93" lengthAdjust="spacingAndGlyphs"  >USDCNH,Daily</text>
<text x="506.58" y="621" font-size="13.1" fill="#5c5c5c" font-weight="normal" text-anchor="start" textLength="76.33" lengthAdjust="spacingAndGlyphs"  >USDJPY,Daily</text>
<text x="603.28" y="621" font-size="13.1" fill="#5c5c5c" font-weight="normal" text-anchor="start" textLength="69.63" lengthAdjust="spacingAndGlyphs"  >XAUUSD,H1</text>
<text x="696.58" y="621" font-size="13.1" fill="#5c5c5c" font-weight="normal" text-anchor="start" textLength="69.03" lengthAdjust="spacingAndGlyphs"  >GBPUSD,H4</text>
<text x="788.78" y="621" font-size="13.1" fill="#5c5c5c" font-weight="normal" text-anchor="start" textLength="64.13" lengthAdjust="spacingAndGlyphs"  >SP500,M15</text>
<text x="876.58" y="621" font-size="13.1" fill="#5c5c5c" font-weight="normal" text-anchor="start" textLength="81.33" lengthAdjust="spacingAndGlyphs"  >GBPUSD,Daily</text>
<text x="978.28" y="621" font-size="13.1" fill="#5c5c5c" font-weight="normal" text-anchor="start" textLength="48.63" lengthAdjust="spacingAndGlyphs"  >DJ30,H4</text>
<text x="1046.78" y="621" font-size="13.1" fill="#5c5c5c" font-weight="normal" text-anchor="start" textLength="71.63" lengthAdjust="spacingAndGlyphs"  >TECH100,H1</text>
<text x="1140.68" y="621" font-size="13.1" fill="#5c5c5c" font-weight="normal" text-anchor="start" textLength="36.43" lengthAdjust="spacingAndGlyphs"  >UKOil,</text>
<text x="18.44" y="66" font-size="12.3" fill="#fff" font-weight="normal" text-anchor="start" textLength="26.62" lengthAdjust="spacingAndGlyphs"  >SELL</text>
<text x="186.74" y="66" font-size="12.3" fill="#fff" font-weight="normal" text-anchor="start" textLength="24.42" lengthAdjust="spacingAndGlyphs"  >BUY</text>
<text x="123.3" y="65" font-size="12.8" fill="#000" font-weight="normal" text-anchor="start" textLength="23.89" lengthAdjust="spacingAndGlyphs"  >5.00</text>
<text x="26.4" y="105" font-size="12.8" fill="#fff" font-weight="bold" text-anchor="start" textLength="24.69" lengthAdjust="spacingAndGlyphs"  >0.99</text>
<text x="54.65" y="105.0" font-size="34.6" fill="#fff" font-weight="normal" text-anchor="start" textLength="35.8" lengthAdjust="spacingAndGlyphs"  stroke="url(#g1)" stroke-width="0.4">59</text>
<text x="93.72" y="89" font-size="12.6" fill="#fff" font-weight="bold" text-anchor="start" textLength="7.96" lengthAdjust="spacingAndGlyphs"  >2</text>
<text x="136.3" y="105" font-size="12.8" fill="#fff" font-weight="bold" text-anchor="start" textLength="25.49" lengthAdjust="spacingAndGlyphs"  >0.99</text>
<text x="165.15" y="105.0" font-size="34.6" fill="#fff" font-weight="normal" text-anchor="start" textLength="36.6" lengthAdjust="spacingAndGlyphs"  stroke="url(#g1)" stroke-width="0.4">61</text>
<text x="204.52" y="89" font-size="12.6" fill="#fff" font-weight="bold" text-anchor="start" textLength="8.16" lengthAdjust="spacingAndGlyphs"  >4</text>
</svg></body></html>
